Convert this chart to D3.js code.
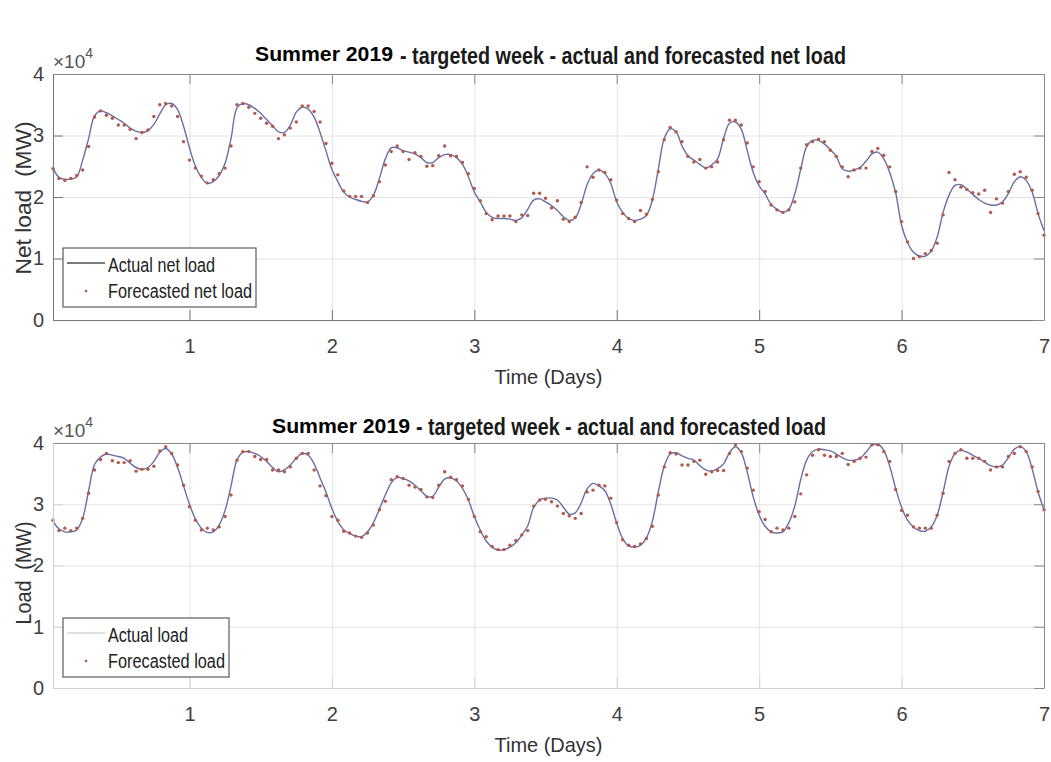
<!DOCTYPE html>
<html>
<head>
<meta charset="utf-8">
<script src="https://cdn.jsdelivr.net/npm/d3@7"></script>
<style>
  body { margin: 0; background: #fff; }
  svg { display: block; font-family: "Liberation Sans", Arial, sans-serif; }
</style>
</head>
<body>
<div id="chart"></div>
<script>
// hourly values for the week (hour 1..168), in units of 10^4 MW
const netActual = [
  2.47, 2.32, 2.29, 2.29, 2.33, 2.60, 2.95, 3.32, 3.40, 3.37, 3.32, 3.26,
  3.20, 3.12, 3.07, 3.05, 3.08, 3.18, 3.35, 3.50, 3.52, 3.42, 3.15, 2.80,
  2.50, 2.32, 2.22, 2.25, 2.35, 2.55, 2.95, 3.45, 3.52, 3.50, 3.44, 3.36,
  3.26, 3.16, 3.06, 3.05, 3.17, 3.38, 3.46, 3.43, 3.30, 3.05, 2.75, 2.45,
  2.25, 2.08, 2.00, 1.96, 1.93, 1.92, 2.03, 2.30, 2.62, 2.80, 2.80, 2.75,
  2.73, 2.70, 2.64, 2.56, 2.56, 2.64, 2.69, 2.69, 2.64, 2.53, 2.33, 2.08,
  1.92, 1.75, 1.67, 1.65, 1.65, 1.64, 1.62, 1.66, 1.80, 1.95, 1.97, 1.92,
  1.86, 1.78, 1.68, 1.62, 1.66, 1.88, 2.20, 2.38, 2.44, 2.38, 2.22, 1.92,
  1.75, 1.65, 1.62, 1.64, 1.70, 1.95, 2.45, 2.95, 3.11, 3.06, 2.83, 2.67,
  2.60, 2.53, 2.47, 2.52, 2.62, 2.95, 3.20, 3.22, 3.10, 2.75, 2.40, 2.18,
  2.05, 1.88, 1.80, 1.75, 1.80, 2.05, 2.45, 2.82, 2.92, 2.92, 2.86, 2.77,
  2.66, 2.46, 2.42, 2.44, 2.48, 2.58, 2.70, 2.73, 2.62, 2.40, 2.07, 1.54,
  1.26, 1.10, 1.04, 1.04, 1.12, 1.35, 1.75, 2.03, 2.19, 2.20, 2.13, 2.04,
  1.96, 1.90, 1.87, 1.87, 1.92, 2.06, 2.25, 2.33, 2.27, 2.08, 1.73, 1.45
];
const netForecast = [
  2.46, 2.30, 2.27, 2.30, 2.35, 2.44, 2.82, 3.30, 3.40, 3.33, 3.28, 3.17,
  3.17, 3.10, 2.95, 3.05, 3.09, 3.31, 3.50, 3.52, 3.48, 3.31, 2.90, 2.60,
  2.47, 2.34, 2.23, 2.28, 2.38, 2.47, 2.83, 3.50, 3.52, 3.46, 3.36, 3.28,
  3.20, 3.15, 2.95, 3.01, 3.12, 3.22, 3.48, 3.48, 3.39, 3.22, 2.87, 2.55,
  2.36, 2.10, 2.01, 2.01, 2.01, 1.91, 2.02, 2.25, 2.52, 2.74, 2.83, 2.74,
  2.61, 2.72, 2.66, 2.50, 2.51, 2.67, 2.83, 2.67, 2.66, 2.56, 2.38, 2.14,
  1.94, 1.73, 1.63, 1.69, 1.69, 1.69, 1.60, 1.71, 1.70, 2.06, 2.06, 1.98,
  1.82, 1.94, 1.64, 1.60, 1.67, 1.91, 2.49, 2.32, 2.44, 2.40, 2.28, 1.95,
  1.73, 1.65, 1.60, 1.78, 1.72, 1.96, 2.41, 2.93, 3.13, 3.06, 2.90, 2.66,
  2.57, 2.61, 2.47, 2.49, 2.57, 2.93, 3.25, 3.25, 3.17, 2.88, 2.49, 2.25,
  2.09, 1.87, 1.79, 1.75, 1.79, 1.92, 2.47, 2.85, 2.90, 2.94, 2.90, 2.76,
  2.66, 2.49, 2.33, 2.44, 2.47, 2.47, 2.74, 2.79, 2.68, 2.49, 2.09, 1.60,
  1.27, 1.00, 1.03, 1.08, 1.13, 1.25, 1.71, 2.40, 2.28, 2.16, 2.12, 2.07,
  2.05, 2.11, 1.75, 1.97, 1.90, 2.09, 2.37, 2.41, 2.32, 2.11, 1.73, 1.38
];
const loadActual = [
  2.72, 2.60, 2.55, 2.55, 2.58, 2.77, 3.22, 3.65, 3.77, 3.82, 3.80, 3.78,
  3.75, 3.67, 3.60, 3.57, 3.60, 3.70, 3.85, 3.91, 3.82, 3.60, 3.30, 3.00,
  2.76, 2.61, 2.54, 2.55, 2.66, 2.90, 3.30, 3.72, 3.85, 3.86, 3.83, 3.78,
  3.70, 3.60, 3.53, 3.56, 3.64, 3.75, 3.83, 3.80, 3.66, 3.43, 3.20, 2.93,
  2.72, 2.58, 2.52, 2.48, 2.47, 2.55, 2.70, 2.92, 3.15, 3.35, 3.44, 3.42,
  3.38, 3.31, 3.22, 3.13, 3.13, 3.28, 3.41, 3.43, 3.38, 3.26, 3.07, 2.80,
  2.58, 2.40, 2.30, 2.25, 2.26, 2.30, 2.37, 2.50, 2.65, 2.95, 3.07, 3.10,
  3.10, 3.07, 2.95, 2.84, 2.86, 3.02, 3.25, 3.34, 3.30, 3.22, 3.00, 2.69,
  2.44, 2.32, 2.30, 2.33, 2.45, 2.72, 3.20, 3.62, 3.82, 3.84, 3.79, 3.75,
  3.72, 3.63, 3.56, 3.54, 3.58, 3.66, 3.84, 3.94, 3.84, 3.52, 3.12, 2.82,
  2.64, 2.55, 2.53, 2.55, 2.70, 2.97, 3.40, 3.72, 3.86, 3.90, 3.89, 3.87,
  3.82, 3.76, 3.72, 3.72, 3.75, 3.85, 3.96, 3.98, 3.88, 3.62, 3.26, 2.95,
  2.74, 2.63, 2.57, 2.56, 2.63, 2.82, 3.20, 3.62, 3.83, 3.88, 3.85, 3.80,
  3.75, 3.69, 3.63, 3.61, 3.64, 3.76, 3.90, 3.94, 3.86, 3.58, 3.20, 2.91
];
const loadForecast = [
  2.74, 2.57, 2.61, 2.57, 2.61, 2.77, 3.18, 3.56, 3.73, 3.83, 3.71, 3.68,
  3.68, 3.71, 3.54, 3.57, 3.57, 3.62, 3.87, 3.94, 3.83, 3.64, 3.31, 2.96,
  2.74, 2.58, 2.61, 2.58, 2.63, 2.80, 3.15, 3.72, 3.86, 3.86, 3.78, 3.73,
  3.73, 3.56, 3.56, 3.53, 3.61, 3.75, 3.83, 3.83, 3.56, 3.30, 3.14, 2.80,
  2.74, 2.56, 2.53, 2.48, 2.46, 2.53, 2.66, 2.91, 3.05, 3.40, 3.45, 3.42,
  3.31, 3.28, 3.24, 3.12, 3.11, 3.31, 3.53, 3.44, 3.40, 3.30, 3.08, 2.80,
  2.55, 2.47, 2.31, 2.26, 2.26, 2.33, 2.41, 2.50, 2.57, 2.97, 3.07, 3.08,
  3.04, 2.97, 2.85, 2.81, 2.77, 2.85, 3.20, 3.23, 3.31, 3.30, 3.10, 2.70,
  2.42, 2.33, 2.31, 2.35, 2.44, 2.64, 3.15, 3.61, 3.84, 3.82, 3.64, 3.64,
  3.70, 3.72, 3.49, 3.53, 3.55, 3.55, 3.83, 3.97, 3.86, 3.59, 3.23, 2.88,
  2.75, 2.55, 2.61, 2.58, 2.61, 2.80, 3.17, 3.48, 3.80, 3.89, 3.80, 3.78,
  3.78, 3.83, 3.65, 3.70, 3.75, 3.77, 3.97, 3.97, 3.86, 3.70, 3.24, 2.90,
  2.82, 2.63, 2.61, 2.61, 2.61, 2.82, 3.18, 3.70, 3.83, 3.89, 3.75, 3.75,
  3.75, 3.70, 3.56, 3.61, 3.61, 3.78, 3.83, 3.94, 3.86, 3.61, 3.21, 2.91
];
const xTicks = [1, 2, 3, 4, 5, 6, 7];
const yTicks = [0, 1, 2, 3, 4];

const width = 1051, height = 762;
const lineColor = "#6b6da6";
const dotColor = "#b5574a";

const svg = d3.select("#chart")
  .append("svg")
  .attr("width", width)
  .attr("height", height);

// hour i+1 of the week, in days
const x = d3.scaleLinear().domain([1 / 24, 7]).range([53, 1044]);
const dayOf = (d, i) => (i + 1) / 24;

const panels = [
  {
    top: 74, bottom: 320, actual: netActual, forecast: netForecast,
    title: ["Summer 2019", "- targeted week - actual and forecasted net load"],
    titleX: [255, 400], titleW: [138, 446], titleY: [61, 64],
    ylabel: "Net load  (MW)", ylabelY: 198, ylabelW: 153,
    legend: ["Actual net load", "Forecasted net load"], legendW: [107, 144],
    legendBox: [63, 248, 193, 59], legendLine: "#4d4d4d",
    axisLow: "#777", axisHigh: "#8a8a8a"
  },
  {
    top: 443, bottom: 688, actual: loadActual, forecast: loadForecast,
    title: ["Summer 2019", "- targeted week - actual and forecasted load"],
    titleX: [272, 416], titleW: [138, 410], titleY: [433, 435],
    ylabel: "Load  (MW)", ylabelY: 573, ylabelW: 103,
    legend: ["Actual load", "Forecasted load"], legendW: [80, 117],
    legendBox: [63, 618, 166, 59], legendLine: "#d6d6d6",
    axisLow: "#d2d2d2", axisHigh: "#8a8a8a"
  }
];

panels.forEach((p, k) => drawPanel(p, k));

function drawPanel(p, k) {
  const y = d3.scaleLinear().domain([0, 4]).range([p.bottom, p.top]);
  const h = p.bottom - p.top;
  const g = svg.append("g");

  // grid
  g.append("g")
    .attr("transform", `translate(0,${p.bottom})`)
    .call(d3.axisBottom(x).tickValues(xTicks.slice(0, -1)).tickSize(-h).tickFormat(""))
    .call(s => s.select(".domain").remove())
    .call(s => s.selectAll("line").attr("stroke", "#e3e3e3"));
  g.append("g")
    .attr("transform", `translate(${x.range()[0]},0)`)
    .call(d3.axisLeft(y).tickValues(yTicks.slice(1, -1)).tickSize(-(x.range()[1] - x.range()[0])).tickFormat(""))
    .call(s => s.select(".domain").remove())
    .call(s => s.selectAll("line").attr("stroke", "#e3e3e3"));

  const clipId = "clip" + k;
  svg.append("clipPath").attr("id", clipId)
    .append("rect")
    .attr("x", x.range()[0]).attr("y", p.top - 1)
    .attr("width", x.range()[1] - x.range()[0] + 1).attr("height", h + 1);

  const line = d3.line()
    .x((d, i) => x(dayOf(d, i)))
    .y(d => y(d))
    .curve(d3.curveCatmullRom.alpha(0.5));

  g.append("path")
    .datum(p.actual)
    .attr("clip-path", `url(#${clipId})`)
    .attr("fill", "none")
    .attr("stroke", lineColor)
    .attr("stroke-width", 1.4)
    .attr("d", line);

  g.append("g")
    .selectAll("circle")
    .data(p.forecast)
    .join("circle")
    .attr("cx", (d, i) => x(dayOf(d, i)))
    .attr("cy", d => y(d))
    .attr("r", 1.7)
    .attr("fill", dotColor);

  // axes, MATLAB style with inward ticks
  const styleAxis = (s, col) => {
    s.select(".domain").attr("stroke", col);
    s.selectAll(".tick line").attr("stroke", col);
    s.selectAll("text")
      .attr("fill", "#404040")
      .attr("font-size", 20)
      .attr("font-family", "Liberation Sans, Arial, sans-serif");
  };
  const fmt = d3.format("d");
  g.append("g")
    .attr("transform", `translate(0,${p.bottom})`)
    .call(d3.axisBottom(x).tickValues(xTicks).tickFormat(fmt).tickSizeInner(-10).tickSizeOuter(0).tickPadding(19))
    .call(s => styleAxis(s, p.axisLow));
  g.append("g")
    .attr("transform", `translate(${x.range()[0]},0)`)
    .call(d3.axisLeft(y).tickValues(yTicks).tickFormat(fmt).tickSizeInner(-10).tickSizeOuter(0).tickPadding(9))
    .call(s => styleAxis(s, p.axisLow));
  g.append("g")
    .attr("transform", `translate(0,${p.top})`)
    .call(d3.axisTop(x).tickValues(xTicks).tickSizeInner(-10).tickSizeOuter(0).tickFormat(""))
    .call(s => styleAxis(s, p.axisHigh));
  g.append("g")
    .attr("transform", `translate(${x.range()[1]},0)`)
    .call(d3.axisRight(y).tickValues(yTicks).tickSizeInner(-10).tickSizeOuter(0).tickFormat(""))
    .call(s => styleAxis(s, p.axisHigh));

  // exponent label, one text with a raised tspan
  const expo = g.append("text")
    .attr("x", x.range()[0])
    .attr("y", p.top - 6)
    .attr("fill", "#555")
    .attr("font-size", 19);
  expo.append("tspan").text("\u00d710");
  expo.append("tspan").attr("dy", -10).attr("font-size", 14).text("4");

  // titles
  g.append("text")
    .attr("x", p.titleX[0]).attr("y", p.titleY[0])
    .attr("font-size", 21).attr("font-weight", "bold")
    .attr("textLength", p.titleW[0]).attr("lengthAdjust", "spacingAndGlyphs")
    .attr("fill", "#000")
    .text(p.title[0]);
  g.append("text")
    .attr("x", p.titleX[1]).attr("y", p.titleY[1])
    .attr("font-size", 24).attr("font-weight", "bold")
    .attr("textLength", p.titleW[1]).attr("lengthAdjust", "spacingAndGlyphs")
    .attr("fill", "#1a1a1a")
    .text(p.title[1]);

  // axis labels
  g.append("text")
    .attr("transform", `translate(31,${p.ylabelY}) rotate(-90)`)
    .attr("text-anchor", "middle")
    .attr("font-size", 22)
    .attr("fill", "#333")
    .style("white-space", "pre")
    .attr("textLength", p.ylabelW).attr("lengthAdjust", "spacingAndGlyphs")
    .text(p.ylabel);
  g.append("text")
    .attr("x", (x.range()[0] + x.range()[1]) / 2)
    .attr("y", p.bottom + 64)
    .attr("text-anchor", "middle")
    .attr("font-size", 21)
    .attr("fill", "#333")
    .attr("textLength", 108).attr("lengthAdjust", "spacingAndGlyphs")
    .text("Time (Days)");

  // legend
  const [lx, ly, lw, lh] = p.legendBox;
  const lg = g.append("g");
  lg.append("rect")
    .attr("x", lx).attr("y", ly).attr("width", lw).attr("height", lh)
    .attr("fill", "#fff").attr("stroke", "#5a5a5a").attr("stroke-width", 1.2);
  lg.append("line")
    .attr("x1", lx + 4).attr("x2", lx + 42)
    .attr("y1", ly + 15).attr("y2", ly + 15)
    .attr("stroke", p.legendLine).attr("stroke-width", 1.3);
  lg.append("circle")
    .attr("cx", lx + 23).attr("cy", ly + 43).attr("r", 1.3)
    .attr("fill", dotColor);
  p.legend.forEach((t, i) => {
    lg.append("text")
      .attr("x", lx + 45).attr("y", ly + 24 + i * 26)
      .attr("font-size", 20).attr("fill", "#222")
      .attr("textLength", p.legendW[i]).attr("lengthAdjust", "spacingAndGlyphs")
      .text(t);
  });
}
</script>
</body>
</html>
